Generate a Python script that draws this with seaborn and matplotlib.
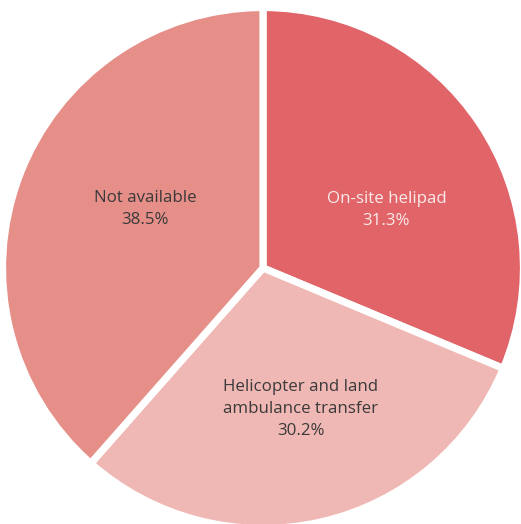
import matplotlib
matplotlib.use("Agg")
import matplotlib.pyplot as plt
import seaborn as sns

sns.set_theme(style="white")
plt.rcParams["font.family"] = ["Open Sans", "DejaVu Sans"]

categories = ["On-site helipad", "Helicopter and land\nambulance transfer", "Not available"]
shares = [31.3, 30.2, 38.5]
colors = ["#E06468", "#F0B8B4", "#E68F89"]
text_colors = ["#FBEAEA", "#3A3A3A", "#3A3A3A"]
# label anchor points (fraction of radius, x / y)
label_xy = [(0.474, 0.223), (0.146, -0.541), (-0.453, 0.226)]

W, H = 521, 524
fig = plt.figure(figsize=(W / 100, H / 100), dpi=100)
ax = fig.add_axes([0, 0, 1, 1])

wedges, _ = ax.pie(
    shares,
    colors=colors,
    startangle=90,
    counterclock=False,
    radius=1.0,
    wedgeprops=dict(edgecolor="white", linewidth=5.2),
)

for name, val, (x, y), tc in zip(categories, shares, label_xy, text_colors):
    ax.text(x, y, f"{name}\n{val:.1f}%", ha="center", va="center",
            fontsize=12.2, color=tc, linespacing=1.47)

# map unit radius to pixels so the pie fills the canvas
r_px = 260.5
cx, cy = 263.0, 268.0
ax.set_xlim(-cx / r_px, (W - cx) / r_px)
ax.set_ylim(-(H - cy) / r_px, cy / r_px)
ax.set_aspect("auto")
ax.axis("off")

fig.savefig("out.png", dpi=100, facecolor="white")
